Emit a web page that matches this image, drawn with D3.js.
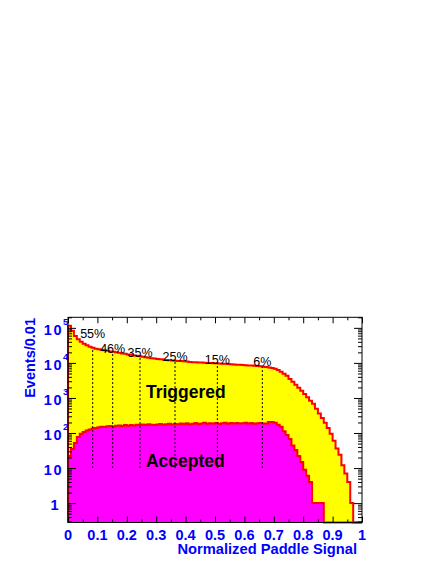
<!DOCTYPE html>
<html lang="en">
  <head>
    <meta charset="UTF-8" />
    <script src="https://d3js.org/d3.v7.min.js"></script>
    <title>Paddle signal</title>
    <style>
      body { margin: 0; background: #fff; }
      text { font-family: "Liberation Sans", Arial, sans-serif; }
    </style>
  </head>
  <body>
    <div id="chart"></div>
    <script>
      // events per 0.01 bin, 100 bins from 0 to 1
      const triggered = [
        114000, 82000, 59000, 47000, 40000, 35000, 31700, 28700, 26900, 25200,
        24400, 23600, 22800, 22100, 21300, 20700, 20000, 19500, 18700, 18100,
        17500, 17000, 16400, 15900, 15400, 14900, 14500, 14000, 13600, 13300,
        13000, 12700, 12500, 12200, 12000, 11800, 11600, 11400, 11300, 11100,
        10900, 10700, 10500, 10400, 10300, 10200, 10100, 10000, 9900, 9800,
        9700, 9600, 9500, 9400, 9250, 9100, 9000, 8900, 8800, 8700,
        8600, 8500, 8400, 8300, 8200, 8000, 7800, 7600, 7400, 7100,
        6800, 6300, 5600, 4900, 4300, 3500, 2900, 2400, 1950, 1600,
        1300, 1050, 830, 680, 490, 360, 270, 195, 140, 95,
        60, 36, 24, 12, 7, 4, 1, 0, 0, 0
      ];
      const accepted = [
        22, 35, 52, 77, 95, 107, 118, 127, 135, 140,
        145, 150, 148, 155, 158, 152, 160, 165, 158, 168,
        162, 170, 165, 172, 168, 175, 170, 178, 172, 168,
        176, 180, 172, 178, 185, 175, 182, 178, 186, 180,
        190, 178, 185, 192, 180, 188, 195, 184, 190, 186,
        193, 182, 190, 196, 185, 192, 188, 194, 186, 190,
        197, 188, 192, 185, 190, 194, 186, 188, 205, 205,
        195, 172, 150, 112, 88, 68, 44, 33, 22, 15,
        9, 6, 4, 1, 1, 1, 1, 0, 0, 0,
        0, 0, 0, 0, 0, 0, 0, 0, 0, 0
      ];
      const binWidth = 0.01;

      // cut positions with their labels
      const cutX = [0.084, 0.152, 0.245, 0.364, 0.508, 0.661];
      const cutLabels = ["55%", "46%", "35%", "25%", "15%", "6%"];
      const cutLabelY = [51900, 19400, 14900, 11400, 9400, 8240];

      const xTicks = [0, 0.1, 0.2, 0.3, 0.4, 0.5, 0.6, 0.7, 0.8, 0.9, 1];
      const xTickLabels = ["0", "0.1", "0.2", "0.3", "0.4", "0.5", "0.6", "0.7", "0.8", "0.9", "1"];
      const yTicks = [1, 10, 100, 1000, 10000, 100000];
      const yTickBase = ["1", "10", "10", "10", "10", "10"];
      const yTickExp = ["", "", "2", "3", "4", "5"];

      const W = 436, H = 564;
      const frame = { left: 68, right: 362, top: 317.3, bottom: 522.5 };

      const svg = d3
        .select("#chart")
        .append("svg")
        .attr("width", W)
        .attr("height", H);

      const x = d3.scaleLinear().domain([0, 1]).range([frame.left, frame.right]);
      const y = d3.scaleLog().domain([0.28, 2.0e5]).range([frame.bottom, frame.top]);
      const yMin = y.domain()[0];

      // histogram outline as steps, empty bins sit on the bottom edge
      function steps(vals) {
        const pts = [[0, yMin]];
        vals.forEach((v, i) => {
          const vv = Math.max(v, yMin);
          pts.push([i * binWidth, vv]);
          pts.push([(i + 1) * binWidth, vv]);
        });
        pts.push([vals.length * binWidth, yMin]);
        return pts;
      }
      const line = d3
        .line()
        .x((d) => x(d[0]))
        .y((d) => y(d[1]));

      function drawHist(vals, fill) {
        const pts = steps(vals);
        svg.append("path").attr("d", line(pts) + "Z").attr("fill", fill);
        svg
          .append("path")
          .attr("d", line(pts))
          .attr("fill", "none")
          .attr("stroke", "#ff0000")
          .attr("stroke-width", 2)
          .attr("stroke-linejoin", "miter");
      }
      drawHist(triggered, "#ffff00");
      drawHist(accepted, "#ff00ff");

      // dotted cut lines from 10 events up to the triggered curve
      cutX.forEach((c, i) => {
        const top = triggered[Math.floor(c / binWidth)];
        svg
          .append("line")
          .attr("x1", x(c))
          .attr("x2", x(c))
          .attr("y1", y(10))
          .attr("y2", y(top))
          .attr("stroke", "#000")
          .attr("stroke-width", 1)
          .attr("stroke-dasharray", "2,2");
        svg
          .append("text")
          .attr("x", x(c))
          .attr("y", y(cutLabelY[i]))
          .attr("text-anchor", "middle")
          .style("font-size", "12.5px")
          .text(cutLabels[i]);
      });

      svg
        .append("text")
        .attr("x", x(0.265))
        .attr("y", y(1000))
        .style("font-size", "17.5px")
        .style("font-weight", "bold")
        .text("Triggered");
      svg
        .append("text")
        .attr("x", x(0.265))
        .attr("y", y(10.5))
        .style("font-size", "17.5px")
        .style("font-weight", "bold")
        .text("Accepted");

      // frame
      svg
        .append("rect")
        .attr("x", frame.left)
        .attr("y", frame.top)
        .attr("width", frame.right - frame.left)
        .attr("height", frame.bottom - frame.top)
        .attr("fill", "none")
        .attr("stroke", "#000")
        .attr("stroke-width", 1);

      // ticks, pointing into the frame on all four sides
      const xMinor = d3.range(0.05, 1, 0.1);
      const yAll = y.ticks();
      const yMinor = yAll.filter((v) => !yTicks.includes(v));
      function tickGroup(axis, transform) {
        const g = svg.append("g").attr("transform", transform).call(axis);
        g.select(".domain").remove();
        g.selectAll("text").remove();
        g.selectAll("line").attr("stroke", "#000");
      }
      tickGroup(d3.axisBottom(x).tickValues(xTicks).tickSize(-6), `translate(0,${frame.bottom})`);
      tickGroup(d3.axisBottom(x).tickValues(xMinor).tickSize(-3), `translate(0,${frame.bottom})`);
      tickGroup(d3.axisTop(x).tickValues(xTicks).tickSize(-6), `translate(0,${frame.top})`);
      tickGroup(d3.axisTop(x).tickValues(xMinor).tickSize(-3), `translate(0,${frame.top})`);
      tickGroup(d3.axisLeft(y).tickValues(yTicks).tickSize(-8), `translate(${frame.left},0)`);
      tickGroup(d3.axisLeft(y).tickValues(yMinor).tickSize(-4), `translate(${frame.left},0)`);
      tickGroup(d3.axisRight(y).tickValues(yTicks).tickSize(-8), `translate(${frame.right},0)`);
      tickGroup(d3.axisRight(y).tickValues(yMinor).tickSize(-4), `translate(${frame.right},0)`);

      // tick labels
      const blue = "#0000ff";
      svg
        .selectAll(".xlab")
        .data(xTicks)
        .join("text")
        .attr("x", (d) => x(d))
        .attr("y", 539.5)
        .attr("text-anchor", "middle")
        .attr("fill", blue)
        .style("font-size", "14.5px")
        .style("font-weight", "bold")
        .text((d, i) => xTickLabels[i]);

      yTicks.forEach((v, i) => {
        const base = svg
          .append("text")
          .attr("y", y(v) + 7)
          .attr("fill", blue)
          .style("font-size", "14.5px")
          .style("font-weight", "bold")
          .text(yTickBase[i]);
        if (yTickBase[i] === "1") {
          base.attr("x", 54.5).attr("text-anchor", "middle");
        } else {
          base.attr("x", 63).attr("text-anchor", "end").attr("letter-spacing", "1.5px");
        }
        if (yTickExp[i]) {
          svg
            .append("text")
            .attr("x", 63)
            .attr("y", y(v) - 3)
            .attr("fill", blue)
            .style("font-size", "9.5px")
            .style("font-weight", "bold")
            .text(yTickExp[i]);
        }
      });

      // axis titles
      svg
        .append("text")
        .attr("x", 357)
        .attr("y", 554)
        .attr("text-anchor", "end")
        .attr("fill", blue)
        .style("font-size", "14.7px")
        .style("font-weight", "bold")
        .text("Normalized Paddle Signal");
      svg
        .append("text")
        .attr("transform", "translate(35,318) rotate(-90)")
        .attr("text-anchor", "end")
        .attr("fill", blue)
        .style("font-size", "14.5px")
        .style("font-weight", "bold")
        .text("Events/0.01");
    </script>
  </body>
</html>
